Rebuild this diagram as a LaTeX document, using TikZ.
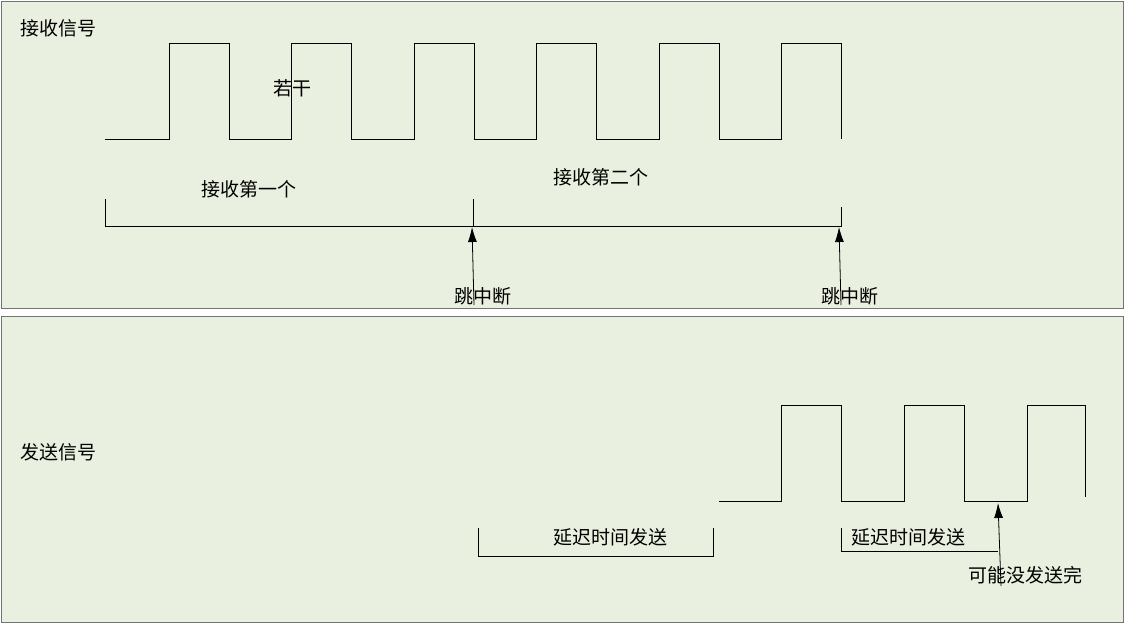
\documentclass[tikz,border=0pt]{standalone}
\usepackage{fontspec}
\setmainfont{Noto Sans CJK SC}
\usetikzlibrary{arrows.meta}
\begin{document}
\begin{tikzpicture}[x=1pt,y=-1pt,
 panel/.style={draw=black!55,fill={rgb,255:red,233;green,240;blue,223}},
 wave/.style={draw=black,line width=1pt},
 lbl/.style={font=\fontsize{19}{19}\selectfont,inner sep=0pt},
 arr/.style={draw=black,line width=0.8pt,-{Latex[length=15pt,width=9pt]}}]
\useasboundingbox (0,0) rectangle (1125,624);
\path[panel] (1,1) rectangle (1123,308);
\path[panel] (1,316) rectangle (1123,622);
\node[lbl] (t1) at (58,28) {接收信号};
\node[lbl] (t2) at (58,452) {发送信号};
% top wave
\draw[wave] (105,139) -- (169,139) -- (169,43) -- (229,43) -- (229,139) -- (291,139) -- (291,43) -- (351,43) -- (351,139)
 -- (414,139) -- (414,43) -- (474,43) -- (474,139) -- (536,139) -- (536,43) -- (596,43) -- (596,139)
 -- (659,139) -- (659,43) -- (719,43) -- (719,139) -- (781,139) -- (781,43) -- (841,43) -- (841,139);
\node[lbl] (rg) at (292,88) {若干};
\draw[wave,line width=0.8pt] (105,199) -- (105,226) -- (841,226) -- (841,207);
\draw[wave,line width=0.8pt] (473,199) -- (473,226);
\node[lbl] (l1) at (249,189) {接收第一个};
\node[lbl] (l2) at (601,177) {接收第二个};
\coordinate (a1s) at (474,305); \coordinate (a1e) at (472,227);
\coordinate (a2s) at (841,305); \coordinate (a2e) at (839,227);
\draw[arr] (a1s) -- (a1e);
\draw[arr] (a2s) -- (a2e);
\node[lbl] (j1) at (483,296) {跳中断};
\node[lbl] (j2) at (850,296) {跳中断};
% bottom wave
\draw[wave] (719,501) -- (781,501) -- (781,405) -- (841,405) -- (841,501) -- (904,501) -- (904,405) -- (964,405) -- (964,501)
 -- (1027,501) -- (1027,405) -- (1085,405) -- (1085,497);
\draw[wave,line width=0.8pt] (478,528) -- (478,556) -- (713,556) -- (713,528);
\draw[wave,line width=0.8pt] (841,528) -- (841,551) -- (998,551);
\node[lbl] (d1) at (610,537) {延迟时间发送};
\node[lbl] (d2) at (908,537) {延迟时间发送};
\coordinate (a3s) at (1001,586); \coordinate (a3e) at (998,503);
\draw[arr] (a3s) -- (a3e);
\node[lbl] (k) at (1025,575) {可能没发送完};
\end{tikzpicture}
\end{document}
